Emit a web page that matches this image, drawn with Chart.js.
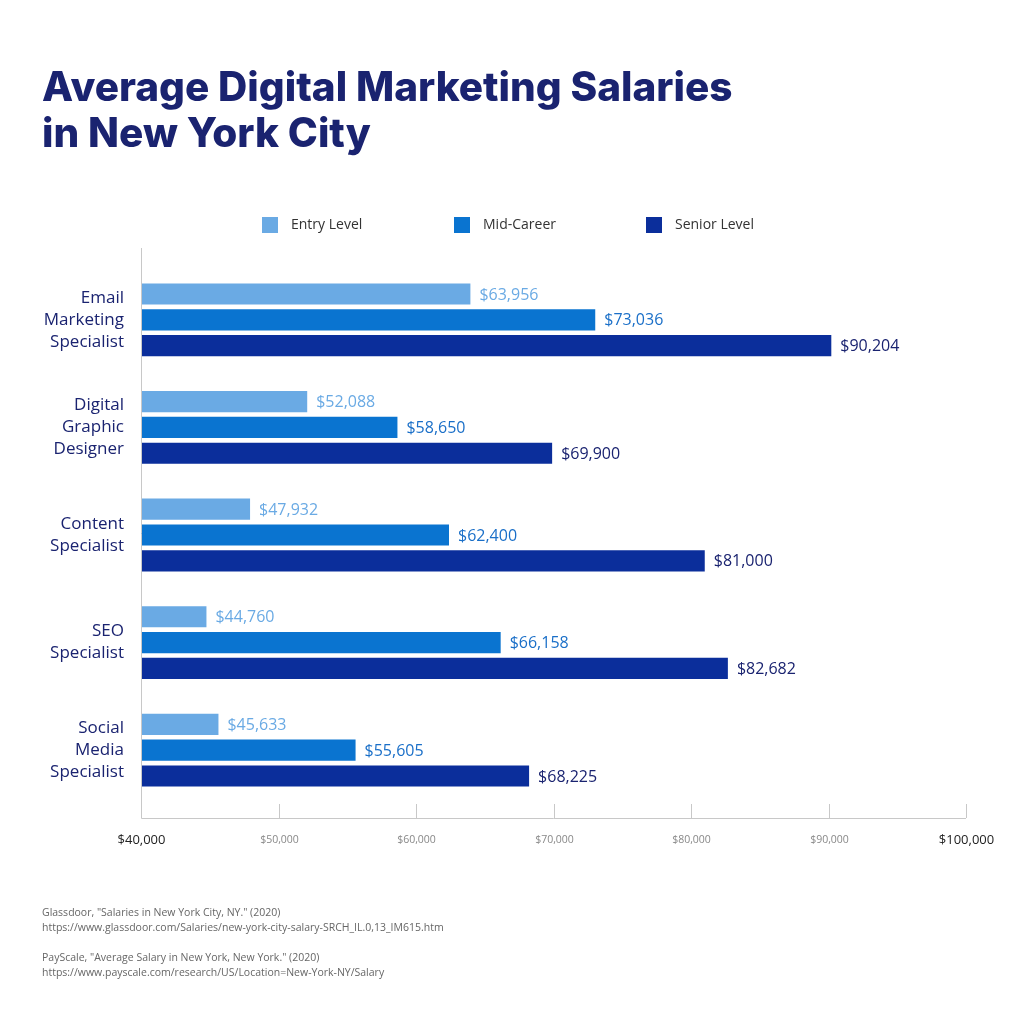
<!DOCTYPE html>
<html><head><meta charset="utf-8">
<script src="https://cdn.jsdelivr.net/npm/chart.js@4/dist/chart.umd.min.js"></script>
<style>
body{margin:0;background:#fff;font-family:"Open Sans",sans-serif}
#wrap{position:absolute;left:0;top:0;width:1024px;height:1024px}
h1{position:absolute;left:42px;top:64px;margin:0;font-family:"Inter",sans-serif;font-weight:800;font-size:40.5px;line-height:46px;color:#1a2370;letter-spacing:0px}
.src{position:absolute;left:42px;font-size:10.5px;color:#666;line-height:15px}
</style></head><body>
<div id="wrap"><canvas id="c" width="1024" height="1024"></canvas></div>
<h1>Average Digital Marketing Salaries<br>in New York City</h1>
<div class="src" style="top:905px">Glassdoor, "Salaries in New York City, NY." (2020)<br>https://www.glassdoor.com/Salaries/new-york-city-salary-SRCH_IL.0,13_IM615.htm</div>
<div class="src" style="top:950px">PayScale, "Average Salary in New York, New York." (2020)<br>https://www.payscale.com/research/US/Location=New-York-NY/Salary</div>
<script>
const categories=[["Email","Marketing","Specialist"],["Digital","Graphic","Designer"],["Content","Specialist"],["SEO","Specialist"],["Social","Media","Specialist"]];
const seriesNames=["Entry Level","Mid-Career","Senior Level"];
const entry=[63956,52088,47932,44760,45633];
const mid=[73036,58650,62400,66158,55605];
const senior=[90204,69900,81000,82682,68225];
const xTicks=[40000,50000,60000,70000,80000,90000,100000];
const barColors=["#6aaae4","#0a74d0","#0b2e9b"];
const labelColors=["#6aaae4","#1a6fc8","#1a2370"];
const fmt=v=>"$"+v.toLocaleString("en-US");
const deco={id:"deco",afterDatasetsDraw(ch){
  const c=ch.ctx,x=ch.scales.x,a=ch.chartArea;
  c.save();
  ch.data.datasets.forEach((ds,i)=>{ch.getDatasetMeta(i).data.forEach((b,j)=>{
    c.fillStyle=labelColors[i];c.font="16px 'Open Sans'";c.textBaseline="middle";c.textAlign="left";
    c.fillText(fmt(ds.data[j]),b.x+9,b.y+1);});});
  c.strokeStyle="#c8c8c8";c.lineWidth=1;
  c.beginPath();c.moveTo(a.left+0.5,248);c.lineTo(a.left+0.5,818.5);c.lineTo(x.getPixelForValue(100000),818.5);c.stroke();
  xTicks.forEach((t,k)=>{const px=Math.round(x.getPixelForValue(t))+0.5;
    c.beginPath();c.moveTo(px,804);c.lineTo(px,818);c.stroke();
    const end=k===0||k===xTicks.length-1;
    c.fillStyle=end?"#222":"#888";c.font=(end?"13px":"10.5px")+" 'Open Sans'";c.textAlign="center";c.textBaseline="middle";
    c.fillText(fmt(t),px,840);});
  const lx=[262,454,646];
  seriesNames.forEach((n,i)=>{c.fillStyle=barColors[i];c.fillRect(lx[i],217,16,16);
    c.fillStyle="#333";c.font="14px 'Open Sans'";c.textAlign="left";c.textBaseline="middle";c.fillText(n,lx[i]+29,225);});
  c.restore();}};
new Chart(document.getElementById("c"),{type:"bar",
 data:{labels:categories,datasets:[entry,mid,senior].map((d,i)=>({label:seriesNames[i],data:d,backgroundColor:barColors[i],categoryPercentage:0.72,barPercentage:0.82}))},
 options:{indexAxis:"y",responsive:false,animation:false,
  layout:{padding:{left:0,right:58,top:266,bottom:220}},
  plugins:{legend:{display:false},tooltip:{enabled:false}},
  scales:{x:{display:false,min:40000,max:100000},
   y:{grid:{display:false},border:{display:false},afterFit(s){s.width=141;},
    ticks:{color:"#1a2370",font:{size:17,family:"'Open Sans'",lineHeight:1.3},padding:9}}}},
 plugins:[deco]});
</script></body></html>
